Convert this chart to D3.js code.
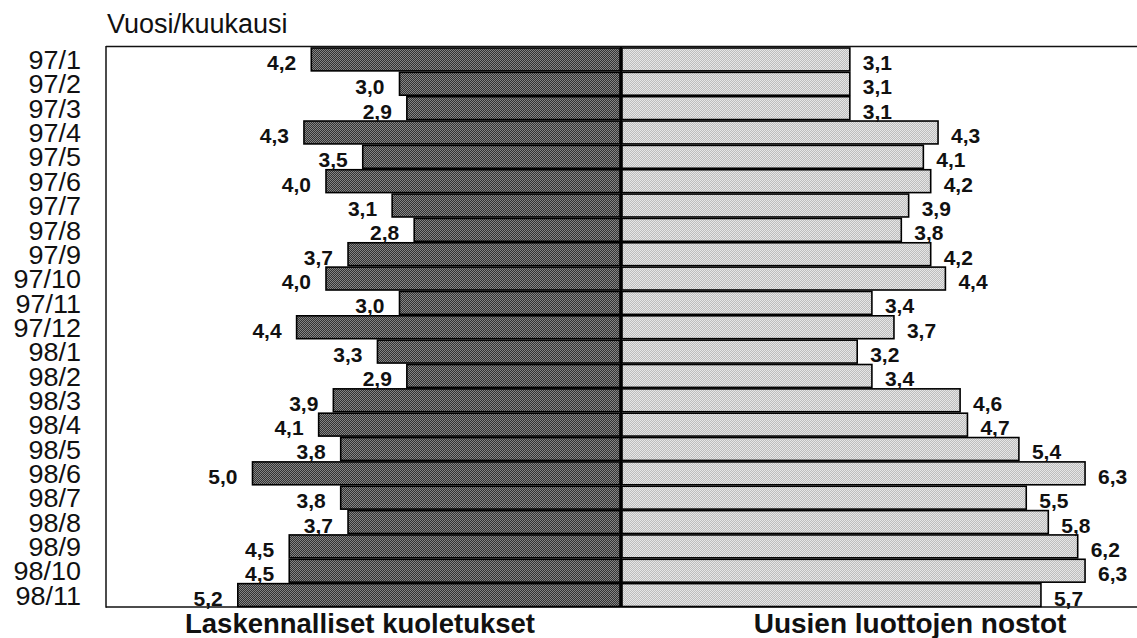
<!DOCTYPE html>
<html>
<head>
<meta charset="utf-8">
<script src="https://cdn.jsdelivr.net/npm/d3@7"></script>
<style>
  html, body { margin: 0; padding: 0; background: #fff; }
  svg { display: block; }
  text { font-family: "Liberation Sans", Arial, Helvetica, sans-serif; fill: #111; }
</style>
</head>
<body>
<svg id="chart" width="1137" height="638"></svg>
<script>
const categories = ["97/1","97/2","97/3","97/4","97/5","97/6","97/7","97/8","97/9","97/10","97/11","97/12",
                    "98/1","98/2","98/3","98/4","98/5","98/6","98/7","98/8","98/9","98/10","98/11"];
const kuoletukset = [4.2,3.0,2.9,4.3,3.5,4.0,3.1,2.8,3.7,4.0,3.0,4.4,3.3,2.9,3.9,4.1,3.8,5.0,3.8,3.7,4.5,4.5,5.2];
const nostot      = [3.1,3.1,3.1,4.3,4.1,4.2,3.9,3.8,4.2,4.4,3.4,3.7,3.2,3.4,4.6,4.7,5.4,6.3,5.5,5.8,6.2,6.3,5.7];
const axisTitle = "Vuosi/kuukausi";
const leftTitle = "Laskennalliset kuoletukset";
const rightTitle = "Uusien luottojen nostot";

const svg = d3.select("#chart");
const W = 1137;
const frameL = 106, frameT = 47, frameB = 607;
const centerX = 621;
const unit = 73.5;

const defs = svg.append("defs");
function checker(id, a, b) {
  const p = defs.append("pattern").attr("id", id).attr("patternUnits", "userSpaceOnUse")
    .attr("width", 2).attr("height", 2);
  p.append("rect").attr("width", 2).attr("height", 2).attr("fill", a);
  p.append("rect").attr("width", 1).attr("height", 1).attr("fill", b);
  p.append("rect").attr("x", 1).attr("y", 1).attr("width", 1).attr("height", 1).attr("fill", b);
}
checker("darkPat", "#333", "#858585");
checker("lightPat", "#bdbdbd", "#e6e6e6");

const y = d3.scaleBand().domain(categories).range([frameT + 0.5, frameB]).paddingInner(0.06).paddingOuter(0.02);
const xL = d3.scaleLinear().domain([0, 7]).range([centerX - 1, centerX - 1 - 7 * unit]);
const xR = d3.scaleLinear().domain([0, 7]).range([centerX + 1, centerX + 1 + 7 * unit]);

const rows = categories.map((c, i) => ({ c, l: kuoletukset[i], r: nostot[i] }));
const fmt = v => d3.format(".1f")(v).replace(".", ",");

// frame
svg.append("line").attr("x1", frameL).attr("x2", W).attr("y1", frameT - 0.5).attr("y2", frameT - 0.5)
  .attr("stroke", "#111").attr("stroke-width", 1.5);
svg.append("line").attr("x1", frameL).attr("x2", W).attr("y1", frameB).attr("y2", frameB)
  .attr("stroke", "#111").attr("stroke-width", 1.5);
svg.append("line").attr("x1", frameL).attr("x2", frameL).attr("y1", frameT - 1).attr("y2", frameB + 0.7)
  .attr("stroke", "#111").attr("stroke-width", 1.5);

// left bars
svg.append("g").selectAll("rect").data(rows).join("rect")
  .attr("x", d => xL(d.l)).attr("y", d => y(d.c))
  .attr("width", d => xL(0) - xL(d.l)).attr("height", y.bandwidth())
  .attr("fill", "url(#darkPat)").attr("stroke", "#000").attr("stroke-width", 1.6);

// right bars
svg.append("g").selectAll("rect").data(rows).join("rect")
  .attr("x", xR(0)).attr("y", d => y(d.c))
  .attr("width", d => xR(d.r) - xR(0)).attr("height", y.bandwidth())
  .attr("fill", "url(#lightPat)").attr("stroke", "#000").attr("stroke-width", 1.6);

// center line
svg.append("line").attr("x1", centerX).attr("x2", centerX).attr("y1", frameT).attr("y2", frameB)
  .attr("stroke", "#000").attr("stroke-width", 2);

// value labels
svg.append("g").selectAll("text").data(rows).join("text")
  .attr("x", d => xL(d.l) - 15).attr("y", d => y(d.c) + y.bandwidth() / 2 + 3)
  .attr("text-anchor", "end").attr("dominant-baseline", "central")
  .attr("font-size", 21).attr("font-weight", "bold")
  .text(d => fmt(d.l));
svg.append("g").selectAll("text").data(rows).join("text")
  .attr("x", d => xR(d.r) + 13).attr("y", d => y(d.c) + y.bandwidth() / 2 + 3)
  .attr("text-anchor", "start").attr("dominant-baseline", "central")
  .attr("font-size", 21).attr("font-weight", "bold")
  .text(d => fmt(d.r));

// category labels
svg.append("g").selectAll("text").data(categories).join("text")
  .attr("transform", d => `translate(81,${y(d) + y.bandwidth() / 2 + 1}) scale(1.08,1)`)
  .attr("text-anchor", "end").attr("dominant-baseline", "central")
  .attr("font-size", 25)
  .text(d => d);

// titles
svg.append("text").attr("x", 107).attr("y", 33).attr("font-size", 27).text(axisTitle);
svg.append("text").attr("x", 360).attr("y", 633).attr("text-anchor", "middle")
  .attr("font-size", 27.5).attr("font-weight", "bold").text(leftTitle);
svg.append("text").attr("x", 910).attr("y", 633).attr("text-anchor", "middle")
  .attr("font-size", 28).attr("font-weight", "bold").text(rightTitle);
</script>
</body>
</html>
